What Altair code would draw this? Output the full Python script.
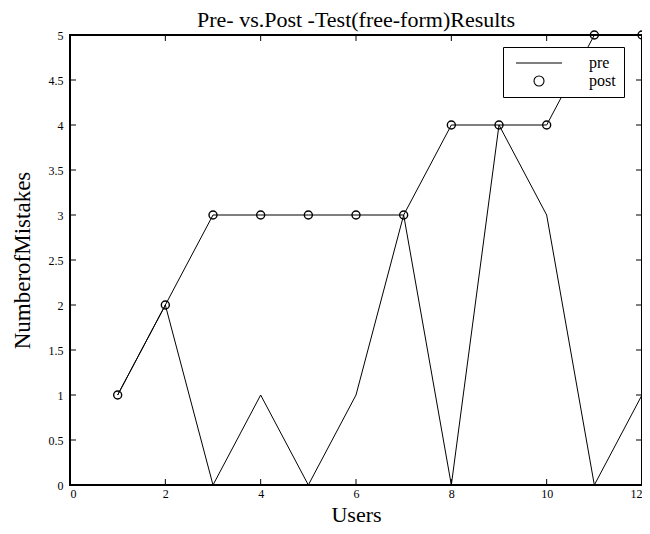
import altair as alt
import pandas as pd

users = [1, 2, 3, 4, 5, 6, 7, 8, 9, 10, 11, 12]
pre = [1, 2, 0, 1, 0, 1, 3, 0, 4, 3, 0, 1]
post = [1, 2, 3, 3, 3, 3, 3, 4, 4, 4, 5, 5]
series_names = ["pre", "post"]
x_ticks = [0, 2, 4, 6, 8, 10, 12]
y_ticks = [0, 0.5, 1, 1.5, 2, 2.5, 3, 3.5, 4, 4.5, 5]

W, H = 572, 450
FONT = "Liberation Serif"
TL = 6  # tick length

df = pd.DataFrame({
    "user": users * 2,
    "value": pre + post,
    "series": ["pre"] * len(users) + ["post"] * len(users),
})
post_df = df[df.series == "post"]
xt = pd.DataFrame({"user": x_ticks})
yt = pd.DataFrame({"value": y_ticks})

xs = alt.Scale(domain=[0, 12], nice=False, zero=False)
ys = alt.Scale(domain=[0, 5], nice=False, zero=False)

xaxis = alt.Axis(values=x_ticks, title="Users", format="d", grid=False, ticks=False,
                 domain=False, labelFont=FONT, labelFontSize=12, labelPadding=3,
                 labelColor="black", titleFont=FONT, titleFontSize=22,
                 titleFontWeight="normal", titleColor="black",
                 titleBaseline="alphabetic", titleY=36)
yaxis = alt.Axis(values=y_ticks, title="NumberofMistakes", format="~g", grid=False,
                 ticks=False, domain=False, labelFont=FONT, labelFontSize=12,
                 labelPadding=7, labelColor="black", titleFont=FONT, titleFontSize=23,
                 titleFontWeight="normal", titleColor="black",
                 titleBaseline="alphabetic", titleX=-41)

X = alt.X("user:Q", scale=xs, axis=xaxis)
Y = alt.Y("value:Q", scale=ys, axis=yaxis)

lines = alt.Chart(df).mark_line(color="black", strokeWidth=1).encode(
    x=X, y=Y, detail="series:N"
)

LINE_PATH = "M-4.6,0H4.6"
PAD = "\u00a0" * 14
points = alt.Chart(post_df).mark_point(
    color="black", filled=False, size=64, strokeWidth=1.4, opacity=1
).encode(
    x=X, y=Y,
    shape=alt.Shape(
        "series:N",
        scale=alt.Scale(domain=series_names, range=[LINE_PATH, "circle"]),
        legend=alt.Legend(
            orient="none", legendX=433, legendY=12, title=None,
            strokeColor="black", fillColor="white", padding=8,
            symbolOffset=20, labelOffset=42, rowPadding=2,
            labelFont=FONT, labelFontSize=16, labelColor="black",
            symbolStrokeColor="black", symbolStrokeWidth=1.1,
            labelExpr="datum.label + '" + PAD + "'",
        ),
    ),
)

xb = alt.Chart(xt).mark_rule(color="black", strokeWidth=1).encode(
    x=X, y=alt.value(H), y2=alt.value(H - TL))
xtp = alt.Chart(xt).mark_rule(color="black", strokeWidth=1).encode(
    x=X, y=alt.value(0), y2=alt.value(TL))
yl = alt.Chart(yt).mark_rule(color="black", strokeWidth=1).encode(
    y=Y, x=alt.value(0), x2=alt.value(TL))
yr = alt.Chart(yt).mark_rule(color="black", strokeWidth=1).encode(
    y=Y, x=alt.value(W), x2=alt.value(W - TL))

chart = alt.layer(xb, xtp, yl, yr, lines, points).properties(
    width=W, height=H,
    autosize=alt.AutoSizeParams(type="none"),
    padding={"left": 62, "top": 27, "right": 0, "bottom": 41},
    background="white",
    title=alt.TitleParams(
        "Pre- vs.Post -Test(free-form)Results", font=FONT, fontSize=22,
        fontWeight="normal", color="black", offset=5, dy=9, anchor="middle",
        frame="group",
    ),
).configure_view(stroke="black", strokeWidth=2)

chart.save("out.html", embed_options={"renderer": "svg", "actions": False})
